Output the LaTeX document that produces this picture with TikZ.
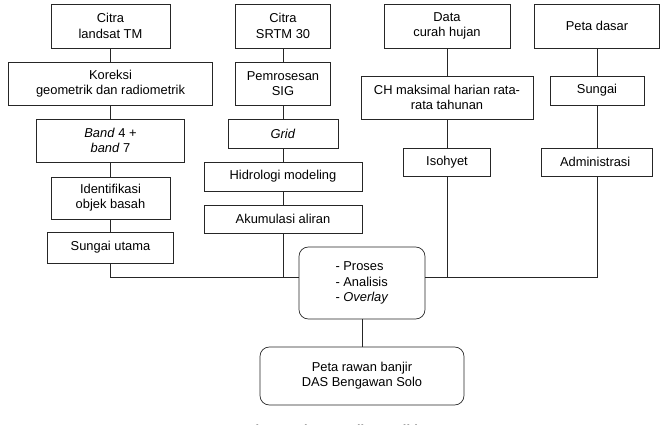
\documentclass[tikz,border=0pt]{standalone}
\usepackage{fontspec}
\setmainfont{Liberation Sans}
\usepackage{xcolor}

\begin{document}
\begin{tikzpicture}[x=0.03cm, y=-0.03cm,
		box/.style={draw=black!85, line width=0.6pt, align=center, inner sep=1pt, font=\fontsize{11}{13}\selectfont},
		roundbox/.style={box, rounded corners=8pt},
		link/.style={draw=black!85, line width=0.6pt}]
	\useasboundingbox (0,0) rectangle (661,425);
	\clip (0,0) rectangle (661,425);
	\fill[white] (0,0) rectangle (661,425);

	% input columns
	\foreach \name/\x/\y/\w/\h/\txt in {
		citraTM/110.5/26/119/44/{Citra\\landsat TM},
		koreksi/110.5/83.5/204/43/{Koreksi\\geometrik dan radiometrik},
		band/110.5/140.5/148/43/{\textit{Band} 4 +\\\textit{band} 7},
		ident/110.5/198/119/42/{Identifikasi\\objek basah},
		sungaiU/110.5/247.5/126/31/{Sungai utama},
		citraSRTM/283/26/95/44/{Citra\\SRTM 30},
		sig/283/83.5/95/43/{Pemrosesan\\SIG},
		grid/283/133.5/110/29/{\textit{Grid}},
		hidro/283/176.5/158/29/{Hidrologi modeling},
		akum/283/219/158/28/{Akumulasi aliran},
		hujan/447/26/126/44/{Data\\curah hujan},
		chmaks/447/97.5/172/43/{CH maksimal harian rata-\\rata tahunan},
		isohyet/447/162/87/28/{Isohyet},
		petadasar/597/26/125/44/{Peta dasar},
		sungai/597/90.5/94/29/{Sungai},
		admin/597/162/111/28/{Administrasi}
	}
	{
		\node[box, minimum width=\w*0.03cm, minimum height=\h*0.03cm] (\name) at (\x,\y) {\txt};
	}

	% process and result
	\node[roundbox, minimum width=126*0.03cm, minimum height=72*0.03cm, align=left] (proses) at (362,283) {- Proses\\- Analisis\\- \textit{Overlay}};
	\node[roundbox, minimum width=204*0.03cm, minimum height=58*0.03cm] (hasil) at (362,376) {Peta rawan banjir\\DAS Bengawan Solo};
	\node[anchor=base, font=\fontsize{11}{13}\selectfont\bfseries] (judul) at (330,434) {Gambar 1. Diagram alir penelitian};

	% connectors
	\foreach \a/\b in {citraTM/koreksi, koreksi/band, band/ident, ident/sungaiU,
		citraSRTM/sig, sig/grid, grid/hidro, hidro/akum,
		hujan/chmaks, chmaks/isohyet, petadasar/sungai, sungai/admin, proses/hasil}
	{
		\draw[link] (\a) -- (\b);
	}
	\coordinate (bus) at (0,277);
	\draw[link] (sungaiU) -- (sungaiU |- bus) -- (proses.west |- bus);
	\draw[link] (akum) -- (akum |- bus);
	\draw[link] (proses.east |- bus) -- (admin |- bus) -- (admin);
	\draw[link] (isohyet) -- (isohyet |- bus);
\end{tikzpicture}
\end{document}
